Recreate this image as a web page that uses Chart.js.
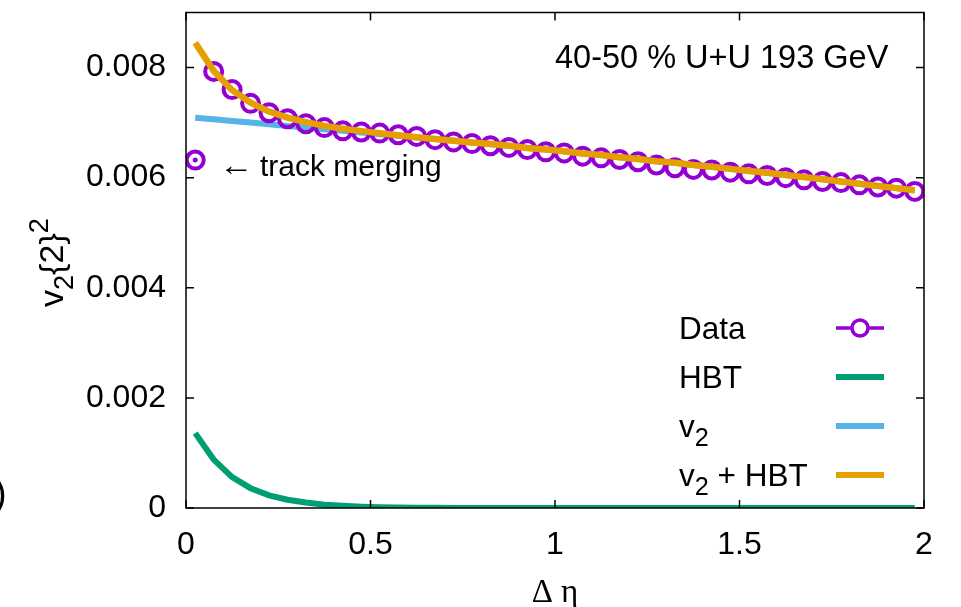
<!DOCTYPE html>
<html>
<head>
<meta charset="utf-8">
<script src="https://cdn.jsdelivr.net/npm/chart.js@4/dist/chart.umd.min.js"></script>
<style>
  html, body { margin: 0; padding: 0; background: #fff; }
</style>
</head>
<body>
<canvas id="chartContainer" width="961" height="607"></canvas>
<script>
// Delta eta bin centres
const etaBins = [
    0.025, 0.075, 0.125, 0.175, 0.225, 0.275, 0.325, 0.375, 0.425, 0.475,
    0.525, 0.575, 0.625, 0.675, 0.725, 0.775, 0.825, 0.875, 0.925, 0.975,
    1.025, 1.075, 1.125, 1.175, 1.225, 1.275, 1.325, 1.375, 1.425, 1.475,
    1.525, 1.575, 1.625, 1.675, 1.725, 1.775, 1.825, 1.875, 1.925, 1.975
];

// measured v2{2}^2
const dataValues = [
    0.00632, 0.00793, 0.00760, 0.00735, 0.00718, 0.00707, 0.00698, 0.00691, 0.00685, 0.00683,
    0.00681, 0.00678, 0.00675, 0.00669, 0.00665, 0.00662, 0.00658, 0.00655, 0.00651, 0.00647,
    0.00645, 0.00639, 0.00636, 0.00633, 0.00629, 0.00623, 0.00618, 0.00615, 0.00614, 0.00610,
    0.00607, 0.00604, 0.00600, 0.00596, 0.00593, 0.00591, 0.00587, 0.00583, 0.00581, 0.00575
];

// HBT contribution
const hbtValues = [
    0.00136, 0.00088, 0.00056, 0.00036, 0.00023, 0.00015, 0.00010, 0.00006, 0.00004, 0.000025,
    0.000015, 0.00001, 0.000006, 0.000004, 0.000002, 0, 0, 0, 0, 0,
    0, 0, 0, 0, 0, 0, 0, 0, 0, 0,
    0, 0, 0, 0, 0, 0, 0, 0, 0, 0
];

// flow part
const v2Values = [
    0.00709, 0.00706, 0.00703, 0.00700, 0.00697, 0.00694, 0.00691, 0.00688, 0.00685, 0.00682,
    0.00679, 0.00676, 0.00673, 0.00670, 0.00667, 0.00664, 0.00661, 0.00658, 0.00654, 0.00651,
    0.00648, 0.00644, 0.00641, 0.00637, 0.00634, 0.00630, 0.00627, 0.00623, 0.00620, 0.00616,
    0.00612, 0.00609, 0.00605, 0.00601, 0.00597, 0.00593, 0.00589, 0.00585, 0.00581, 0.00577
];

// v2 + HBT
const sumValues = [
    0.00845, 0.00794, 0.00759, 0.00736, 0.00720, 0.00709, 0.00701, 0.00694, 0.00689, 0.006845,
    0.006805, 0.00677, 0.006736, 0.006704, 0.006672, 0.00664, 0.00661, 0.00658, 0.00654, 0.00651,
    0.00648, 0.00644, 0.00641, 0.00637, 0.00634, 0.00630, 0.00627, 0.00623, 0.00620, 0.00616,
    0.00612, 0.00609, 0.00605, 0.00601, 0.00597, 0.00593, 0.00589, 0.00585, 0.00581, 0.00577
];

const xTicks = [0, 0.5, 1, 1.5, 2];
const xTickLabels = ['0', '0.5', '1', '1.5', '2'];
const yTicks = [0, 0.002, 0.004, 0.006, 0.008];
const yTickLabels = ['0', '0.002', '0.004', '0.006', '0.008'];

const legendLabels = ['Data', 'HBT', 'v_2', 'v_2 + HBT'];
const titleText = '40-50 % U+U 193 GeV';
const yAxisTitle = 'v_2{2}^2';
const xAxisTitle = 'Δ η';

const SANS = '"Liberation Sans", Arial, sans-serif';
const PURPLE = '#9400d3';
const GREEN = '#009e73';
const BLUE = '#56b4e9';
const ORANGE = '#e69f00';

function pts(ys) {
    return etaBins.map((x, i) => ({ x: x, y: ys[i] }));
}

// draw gnuplot style "enhanced" text: _x subscript, ^x superscript
function drawRich(ctx, text, x, y, size) {
    let cx = x;
    for (let i = 0; i < text.length; i++) {
        let ch = text[i];
        let dy = 0, fs = size;
        if (ch === '_' || ch === '^') {
            dy = ch === '_' ? size * 0.3 : -size * 0.45;
            fs = size * 0.8;
            ch = text[++i];
        }
        ctx.font = fs + 'px ' + SANS;
        ctx.fillText(ch, cx, y + dy);
        cx += ctx.measureText(ch).width;
    }
}

const framePlugin = {
    id: 'frame',
    afterDatasetsDraw(chart) {
        const ctx = chart.ctx;
        const a = chart.chartArea;
        const xs = chart.scales.x, ys = chart.scales.y;
        ctx.save();
        ctx.strokeStyle = '#000';
        ctx.lineWidth = 1.5;
        ctx.strokeRect(a.left, a.top, a.right - a.left, a.bottom - a.top);
        ctx.beginPath();
        xTicks.forEach(v => {
            const px = xs.getPixelForValue(v);
            ctx.moveTo(px, a.bottom); ctx.lineTo(px, a.bottom - 8);
            ctx.moveTo(px, a.top); ctx.lineTo(px, a.top + 8);
        });
        yTicks.forEach(v => {
            const py = ys.getPixelForValue(v);
            ctx.moveTo(a.left, py); ctx.lineTo(a.left + 8, py);
            ctx.moveTo(a.right, py); ctx.lineTo(a.right - 8, py);
        });
        ctx.stroke();
        ctx.restore();
    },
    afterDraw(chart) {
        const ctx = chart.ctx;
        const a = chart.chartArea;
        ctx.save();
        ctx.fillStyle = '#000';
        ctx.textBaseline = 'alphabetic';
        ctx.textAlign = 'left';

        // title inside the frame
        ctx.font = '32.5px ' + SANS;
        ctx.fillText(titleText, 555, 68);

        // track merging note
        ctx.font = '30px ' + SANS;
        ctx.save();
        ctx.translate(219, 0);
        ctx.scale(1.15, 1);
        ctx.fillText('←', 0, 175);
        ctx.restore();
        ctx.fillText('track merging', 260, 176);

        // y axis title
        ctx.save();
        ctx.translate(63, 307);
        ctx.rotate(-Math.PI / 2);
        drawRich(ctx, yAxisTitle, 0, 0, 34);
        ctx.restore();

        // x axis title
        ctx.font = '33px "Liberation Serif", "Times New Roman", serif';
        ctx.textAlign = 'center';
        ctx.fillText(xAxisTitle, (a.left + a.right) / 2, 602);

        // clipped panel label on the far left
        ctx.font = '38px ' + SANS;
        ctx.textAlign = 'left';
        ctx.fillText(')', -6, 506);

        // legend
        const colors = [PURPLE, GREEN, BLUE, ORANGE];
        legendLabels.forEach((lab, i) => {
            const cy = 328 + i * 49;
            ctx.fillStyle = '#000';
            ctx.textAlign = 'left';
            drawRich(ctx, lab, 679, cy + 11, 31.5);
            ctx.strokeStyle = colors[i];
            ctx.lineWidth = i === 0 ? 3.5 : 6;
            ctx.beginPath();
            ctx.moveTo(836, cy); ctx.lineTo(884, cy);
            ctx.stroke();
            if (i === 0) {
                ctx.beginPath();
                ctx.arc(860, cy, 8, 0, Math.PI * 2);
                ctx.fillStyle = '#fff';
                ctx.fill();
                ctx.stroke();
            }
        });
        ctx.restore();
    }
};

const ctx = document.getElementById('chartContainer').getContext('2d');

new Chart(ctx, {
    type: 'scatter',
    data: {
        datasets: [
            {
                label: 'v2 + HBT',
                data: pts(sumValues),
                showLine: true,
                borderColor: ORANGE,
                borderWidth: 6.5,
                pointRadius: 0,
                order: 0
            },
            {
                label: 'track merging',
                data: [{ x: etaBins[0], y: dataValues[0] }],
                pointRadius: 2.5,
                pointBackgroundColor: PURPLE,
                pointBorderWidth: 0,
                order: 1
            },
            {
                label: 'Data',
                data: pts(dataValues),
                showLine: false,
                pointStyle: 'circle',
                pointRadius: 8.5,
                pointBorderWidth: 4,
                pointBorderColor: PURPLE,
                pointBackgroundColor: 'rgba(0,0,0,0)',
                order: 2
            },
            {
                label: 'v2',
                data: pts(v2Values),
                showLine: true,
                borderColor: BLUE,
                borderWidth: 6,
                pointRadius: 0,
                order: 3
            },
            {
                label: 'HBT',
                data: pts(hbtValues),
                showLine: true,
                borderColor: GREEN,
                borderWidth: 6,
                pointRadius: 0,
                order: 4
            }
        ]
    },
    options: {
        responsive: false,
        animation: false,
        layout: { padding: { left: 0, right: 37, top: 12, bottom: 0 } },
        plugins: {
            legend: { display: false },
            tooltip: { enabled: false }
        },
        scales: {
            x: {
                type: 'linear',
                min: 0,
                max: 2,
                grid: { display: false, drawTicks: false },
                border: { display: false },
                afterBuildTicks: s => { s.ticks = xTicks.map(v => ({ value: v })); },
                afterFit: s => { s.height = 99; s.paddingLeft = 0; s.paddingRight = 0; },
                ticks: {
                    autoSkip: false,
                    maxRotation: 0,
                    padding: 18,
                    color: '#000',
                    font: { family: SANS, size: 32 },
                    callback: (v, i) => xTickLabels[i]
                }
            },
            y: {
                type: 'linear',
                min: 0,
                max: 0.009,
                grid: { display: false, drawTicks: false },
                border: { display: false },
                afterBuildTicks: s => { s.ticks = yTicks.map(v => ({ value: v })); },
                afterFit: s => { s.width = 186; s.paddingTop = 0; s.paddingBottom = 0; },
                ticks: {
                    autoSkip: false,
                    padding: 20,
                    color: '#000',
                    font: { family: SANS, size: 32 },
                    callback: (v, i) => yTickLabels[i]
                }
            }
        }
    },
    plugins: [framePlugin]
});
</script>
</body>
</html>
